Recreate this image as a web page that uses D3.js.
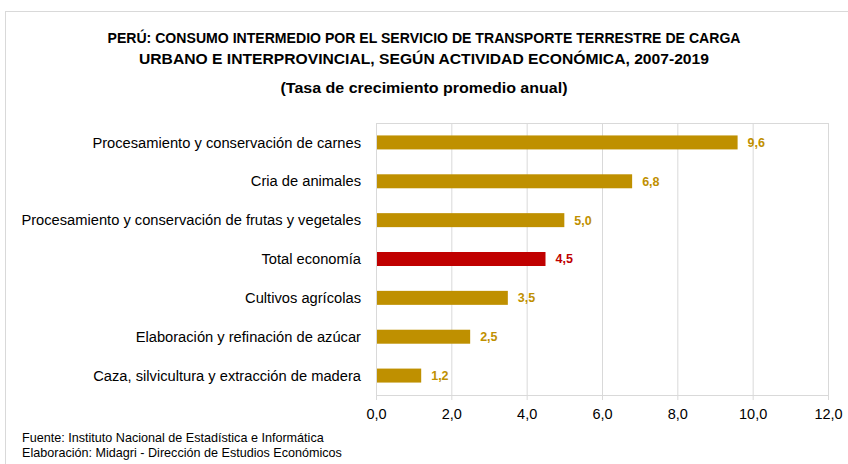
<!DOCTYPE html>
<html>
<head>
<meta charset="utf-8">
<script src="https://cdn.jsdelivr.net/npm/d3@7"></script>
<style>
  body { margin: 0; background: #fff; }
  text { font-family: "Liberation Sans", Arial, sans-serif; }
</style>
</head>
<body>
<div id="chart"></div>
<script>
// chart data
var categories = [
  "Procesamiento y conservación de carnes",
  "Cria de animales",
  "Procesamiento y conservación de frutas y vegetales",
  "Total economía",
  "Cultivos agrícolas",
  "Elaboración y refinación de azúcar",
  "Caza, silvicultura y extracción de madera"
];
var values = [9.6, 6.8, 5.0, 4.5, 3.5, 2.5, 1.2];
var highlight = ["Total economía"];
var xTicks = [0, 2, 4, 6, 8, 10, 12];

var width = 848, height = 464;
var margin = { top: 123, right: 20, bottom: 69, left: 376 };

var svg = d3.select("#chart").append("svg")
    .attr("width", width)
    .attr("height", height);

// outer frame
svg.append("rect")
    .attr("x", 5.5).attr("y", 11.5)
    .attr("width", width - 5).attr("height", height)
    .attr("fill", "none")
    .attr("stroke", "#d9d9d9");

// titles
var titles = [
  { t: "PERÚ: CONSUMO INTERMEDIO POR EL SERVICIO DE TRANSPORTE TERRESTRE DE CARGA", y: 43, w: 633 },
  { t: "URBANO E INTERPROVINCIAL, SEGÚN ACTIVIDAD ECONÓMICA, 2007-2019", y: 64, w: 570 },
  { t: "(Tasa de crecimiento promedio anual)", y: 93, w: 287 }
];
svg.selectAll("text.title").data(titles).enter().append("text")
    .attr("class", "title")
    .attr("x", 424).attr("y", (d) => d.y)
    .attr("text-anchor", "middle")
    .attr("font-size", 14.5)
    .attr("font-weight", "bold")
    .attr("fill", "#000")
    .attr("textLength", (d) => d.w)
    .attr("lengthAdjust", "spacingAndGlyphs")
    .text((d) => d.t);

var x = d3.scaleLinear().domain([0, 12]).range([0, 452]);
var y = d3.scaleBand().domain(categories).range([0, 272]).paddingInner(0.64).paddingOuter(0.32);

var g = svg.append("g").attr("transform", `translate(${margin.left},${margin.top})`);

// gridlines
g.selectAll("line.grid").data(xTicks.slice(1)).enter().append("line")
    .attr("class", "grid")
    .attr("x1", (d) => x(d) + 0.5).attr("x2", (d) => x(d) + 0.5)
    .attr("y1", 0).attr("y2", 272)
    .attr("stroke", "#d9d9d9");

// plot top border
g.append("line")
    .attr("x1", 0).attr("x2", x(12) + 0.5)
    .attr("y1", 0.5).attr("y2", 0.5)
    .attr("stroke", "#d9d9d9");

// bars
g.selectAll("rect.bar").data(categories).enter().append("rect")
    .attr("class", "bar")
    .attr("x", 0)
    .attr("y", (d) => y(d))
    .attr("width", (d, i) => x(values[i]))
    .attr("height", y.bandwidth())
    .attr("fill", (d) => highlight.includes(d) ? "#c00000" : "#bf9000");

// value labels
g.selectAll("text.val").data(categories).enter().append("text")
    .attr("class", "val")
    .attr("x", (d, i) => x(values[i]) + 10)
    .attr("y", (d) => y(d) + y.bandwidth() / 2)
    .attr("dy", "0.35em")
    .attr("font-size", 12.5)
    .attr("font-weight", "bold")
    .attr("fill", (d) => highlight.includes(d) ? "#c00000" : "#bf9000")
    .text((d, i) => d3.format(".1f")(values[i]).replace(".", ","));

// category labels
g.selectAll("text.cat").data(categories).enter().append("text")
    .attr("class", "cat")
    .attr("x", -15)
    .attr("y", (d) => y(d) + y.bandwidth() / 2)
    .attr("dy", "0.35em")
    .attr("text-anchor", "end")
    .attr("font-size", 14.7)
    .attr("fill", "#000")
    .text((d) => d);

// x axis
var xAxis = g.append("g")
    .attr("transform", "translate(0,272)")
    .call(d3.axisBottom(x).tickValues(xTicks).tickSize(5).tickPadding(9)
      .tickFormat((d) => d3.format(".1f")(d).replace(".", ",")));
xAxis.select(".domain").attr("stroke", "#d9d9d9");
xAxis.selectAll(".tick line").attr("stroke", "#d9d9d9");
xAxis.selectAll(".tick text")
    .attr("font-size", 14.5)
    .attr("font-family", "Liberation Sans, Arial, sans-serif")
    .attr("fill", "#000");

// left axis line
g.append("line")
    .attr("x1", 0.5).attr("x2", 0.5)
    .attr("y1", 0).attr("y2", 272)
    .attr("stroke", "#d9d9d9");

// footer
var notes = [
  "Fuente: Instituto Nacional de Estadística e Informática",
  "Elaboración: Midagri - Dirección de Estudios Económicos"
];
svg.selectAll("text.note").data(notes).enter().append("text")
    .attr("class", "note")
    .attr("x", 22)
    .attr("y", (d, i) => 442 + i * 15)
    .attr("font-size", 12.6)
    .attr("fill", "#000")
    .text((d) => d);
</script>
</body>
</html>
